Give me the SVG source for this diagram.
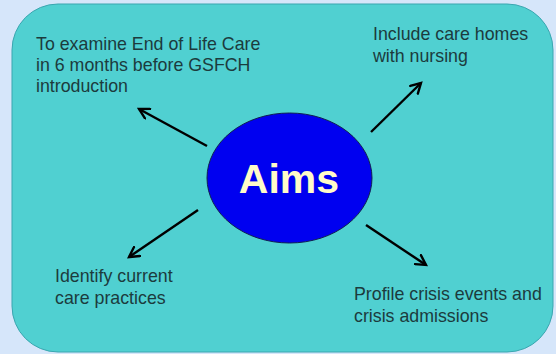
<svg xmlns="http://www.w3.org/2000/svg" width="556" height="354" viewBox="0 0 556 354">
  <style>
    .label { font-family: "Liberation Sans", Arial, sans-serif; font-size: 17.8px; fill: #1c3b3d; }
    .title { font-family: "Liberation Sans", Arial, sans-serif; font-size: 41px; font-weight: bold; fill: #fffbc8; }
    .arrow { stroke: #000; stroke-width: 2.4; fill: none; marker-end: url(#head); }
  </style>
  <defs>
    <marker id="head" viewBox="0 0 12 12" refX="10" refY="6" markerWidth="13" markerHeight="13" markerUnits="userSpaceOnUse" orient="auto">
      <path d="M1,1 L10,6 L1,11" fill="none" stroke="#000" stroke-width="2.2" stroke-linecap="round" stroke-linejoin="miter"/>
    </marker>
  </defs>

  <!-- page background -->
  <rect x="0" y="0" width="556" height="354" fill="#d6e6fa"/>

  <!-- rounded panel -->
  <rect id="panel" x="12" y="4" width="541" height="348" rx="46" ry="46" fill="#50d0d1" stroke="#3aa6b0" stroke-width="1"/>

  <!-- central node -->
  <g id="aims">
    <ellipse cx="289.5" cy="178" rx="82.5" ry="65" fill="#0000f0" stroke="#102050" stroke-width="1"/>
    <text class="title" x="289" y="193" text-anchor="middle">Aims</text>
  </g>

  <!-- connectors -->
  <g id="connectors">
    <line class="arrow" x1="207" y1="146" x2="139" y2="109"/>
    <line class="arrow" x1="371" y1="132" x2="421" y2="83"/>
    <line class="arrow" x1="198" y1="210" x2="129" y2="257"/>
    <line class="arrow" x1="366" y1="225" x2="426" y2="265"/>
  </g>

  <!-- aim nodes -->
  <g id="aim-examine">
    <text class="label" x="36" y="50">To examine End of Life Care</text>
    <text class="label" x="36" y="71">in 6 months before GSFCH</text>
    <text class="label" x="36" y="92">introduction</text>
  </g>
  <g id="aim-care-homes">
    <text class="label" x="373" y="40">Include care homes</text>
    <text class="label" x="373" y="62">with nursing</text>
  </g>
  <g id="aim-identify">
    <text class="label" x="55" y="282">Identify current</text>
    <text class="label" x="55" y="304">care practices</text>
  </g>
  <g id="aim-profile">
    <text class="label" x="354" y="300">Profile crisis events and</text>
    <text class="label" x="354" y="322">crisis admissions</text>
  </g>
</svg>
